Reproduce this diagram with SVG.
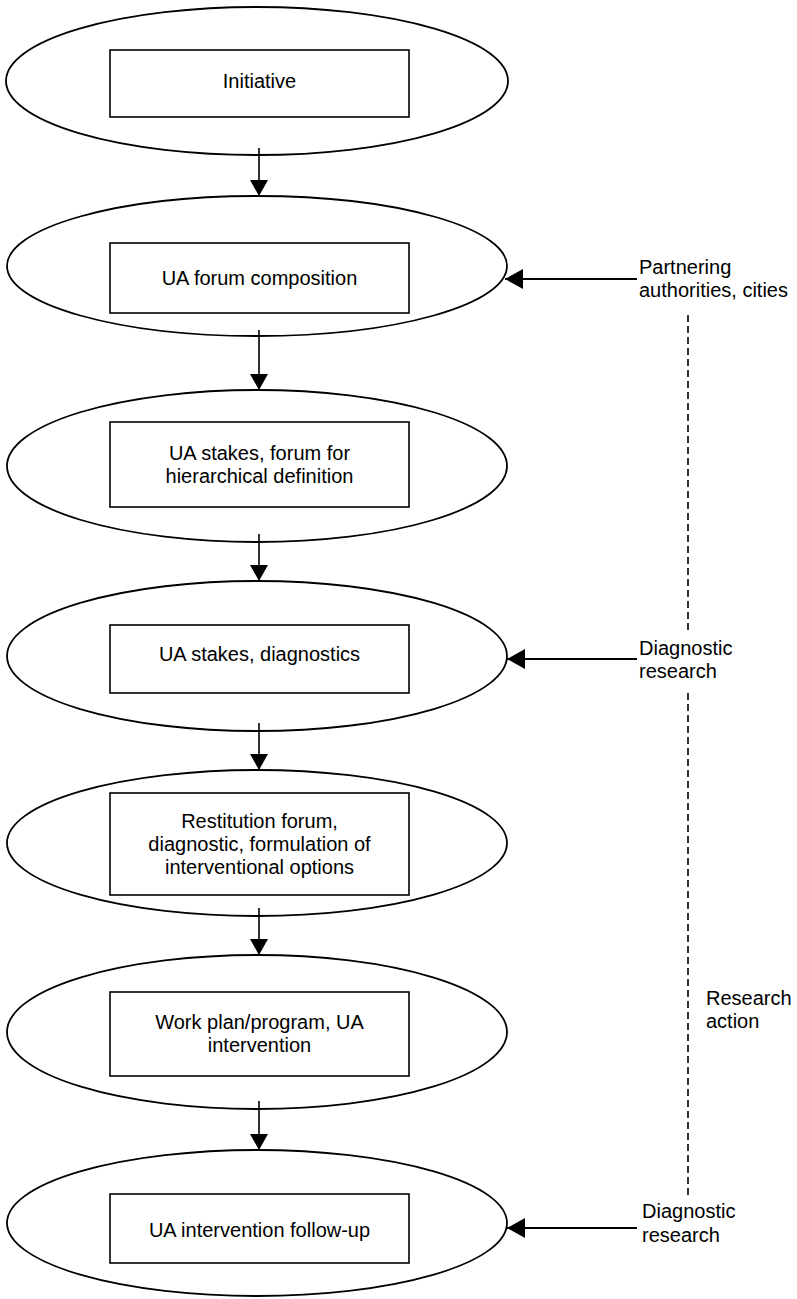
<svg xmlns="http://www.w3.org/2000/svg" width="797" height="1299" viewBox="0 0 797 1299">
<defs>
<style>
.ell{fill:none;stroke:#000;stroke-width:1.8}
.box{fill:#fff;stroke:#000;stroke-width:1.6}
.t{font-family:"Liberation Sans",Arial,sans-serif;font-size:20px;fill:#000}
.c{text-anchor:middle}
.v{stroke:#000;stroke-width:1.6;fill:none}
.h{stroke:#000;stroke-width:2.2;fill:none}
.d{stroke:#000;stroke-width:1.6;fill:none;stroke-dasharray:7 4}
</style>
<marker id="ah" markerUnits="userSpaceOnUse" viewBox="0 0 16 18" refX="16" refY="9" markerWidth="16" markerHeight="18" orient="auto">
<path d="M0,0 L16,9 L0,18 z" fill="#000"/>
</marker>
<marker id="ahs" markerUnits="userSpaceOnUse" viewBox="0 0 18 20" refX="18" refY="10" markerWidth="18" markerHeight="20" orient="auto">
<path d="M0,0 L18,10 L0,20 z" fill="#000"/>
</marker>
</defs>
<rect width="797" height="1299" fill="#fff"/>

<g id="node1">
<ellipse class="ell" cx="257" cy="81" rx="251" ry="74"/>
<rect class="box" x="110" y="50" width="299" height="67"/>
<text class="t c" x="259.5" y="88">Initiative</text>
</g>

<g id="node2">
<ellipse class="ell" cx="257" cy="266" rx="250" ry="70"/>
<rect class="box" x="110" y="243" width="299" height="70"/>
<text class="t c" x="259.5" y="285">UA forum composition</text>
</g>

<g id="node3">
<ellipse class="ell" cx="257" cy="466" rx="250" ry="76"/>
<rect class="box" x="110" y="422" width="299" height="85"/>
<text class="t c" x="259.5" y="460">UA stakes, forum for</text>
<text class="t c" x="259.5" y="483">hierarchical definition</text>
</g>

<g id="node4">
<ellipse class="ell" cx="257" cy="656" rx="250" ry="75"/>
<rect class="box" x="110" y="625" width="299" height="68"/>
<text class="t c" x="259.5" y="661">UA stakes, diagnostics</text>
</g>

<g id="node5">
<ellipse class="ell" cx="257" cy="843" rx="250" ry="73"/>
<rect class="box" x="110" y="793" width="299" height="102"/>
<text class="t c" x="259.5" y="828">Restitution forum,</text>
<text class="t c" x="259.5" y="851">diagnostic, formulation of</text>
<text class="t c" x="259.5" y="874">interventional options</text>
</g>

<g id="node6">
<ellipse class="ell" cx="257" cy="1032" rx="250" ry="77"/>
<rect class="box" x="110" y="992" width="299" height="84"/>
<text class="t c" x="259.5" y="1029">Work plan/program, UA</text>
<text class="t c" x="259.5" y="1052">intervention</text>
</g>

<g id="node7">
<ellipse class="ell" cx="257" cy="1223" rx="250" ry="73"/>
<rect class="box" x="110" y="1194" width="299" height="69"/>
<text class="t c" x="259.5" y="1237">UA intervention follow-up</text>
</g>

<g id="label-partnering">
<text class="t" x="639" y="274">Partnering</text>
<text class="t" x="639" y="297">authorities, cities</text>
</g>
<g id="label-diag1">
<text class="t" x="639" y="655">Diagnostic</text>
<text class="t" x="639" y="678">research</text>
</g>
<g id="label-research-action">
<text class="t" x="706" y="1005">Research</text>
<text class="t" x="706" y="1028">action</text>
</g>
<g id="label-diag2">
<text class="t" x="642" y="1218">Diagnostic</text>
<text class="t" x="642" y="1242">research</text>
</g>

<g id="connectors">
<line class="v" x1="259" y1="148" x2="259" y2="196" marker-end="url(#ah)"/>
<line class="v" x1="259" y1="330" x2="259" y2="390" marker-end="url(#ah)"/>
<line class="v" x1="259" y1="534" x2="259" y2="581" marker-end="url(#ah)"/>
<line class="v" x1="259" y1="723" x2="259" y2="770" marker-end="url(#ah)"/>
<line class="v" x1="259" y1="908" x2="259" y2="955" marker-end="url(#ah)"/>
<line class="v" x1="259" y1="1101" x2="259" y2="1150" marker-end="url(#ah)"/>
<line class="h" x1="637" y1="279" x2="505" y2="279" marker-end="url(#ahs)"/>
<line class="h" x1="637" y1="659" x2="507" y2="659" marker-end="url(#ahs)"/>
<line class="h" x1="637" y1="1228" x2="507" y2="1228" marker-end="url(#ahs)"/>
<line class="d" x1="688" y1="315" x2="688" y2="633"/>
<line class="d" x1="688" y1="693" x2="688" y2="1199"/>
</g>
</svg>
